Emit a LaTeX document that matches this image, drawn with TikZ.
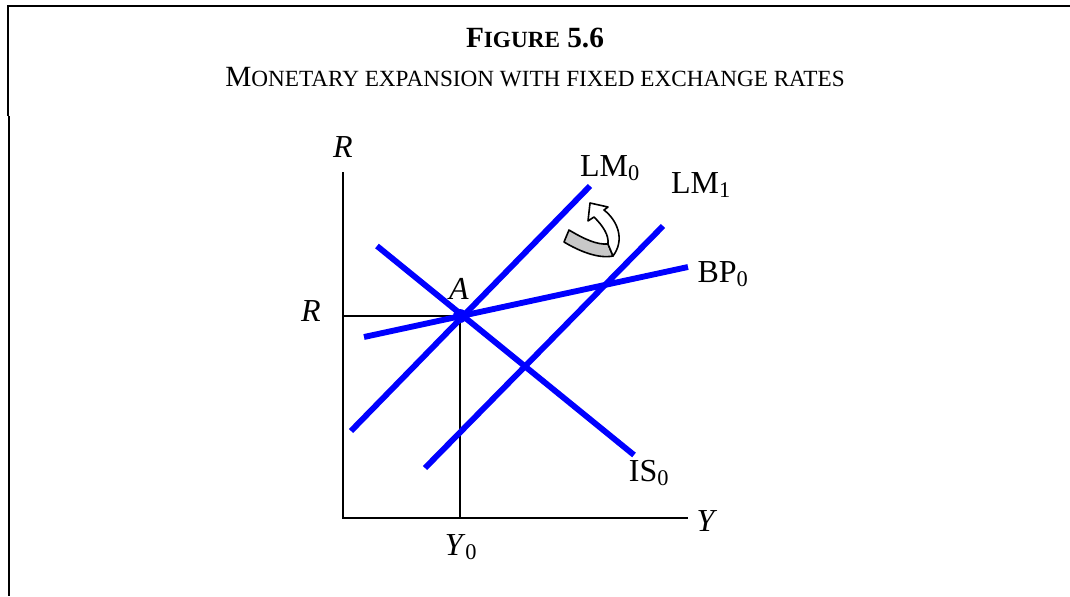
\documentclass[tikz,border=0pt]{standalone}
\usepackage{fontspec}
\setmainfont{Liberation Serif}
\definecolor{curveblue}{RGB}{0,0,255}
\definecolor{bandgray}{RGB}{200,200,200}
\newcommand{\ttlsize}{\fontsize{22pt}{24pt}\selectfont}
\newcommand{\ttlsc}{\fontsize{17.4pt}{20pt}\selectfont}
\begin{document}
\begin{tikzpicture}[x=0.75pt,y=-0.75pt,
  frame/.style={line width=1.8pt,black},
  axis/.style={line width=1.8pt,black},
  guide/.style={line width=1.1pt,black},
  curve/.style={line width=4.4pt,curveblue},
  lbl/.style={font=\fontsize{24pt}{26pt}\selectfont,anchor=base,inner sep=0pt},
  ttl/.style={anchor=base,inner sep=0pt},
  turn/.style={line width=1.2pt,black,line join=round}]
\useasboundingbox (0,0) rectangle (1070,596);
% frame
\coordinate (f0) at (8,6);
\coordinate (f1) at (1070,6);
\coordinate (f2) at (8,116);
\coordinate (f3) at (9,116);
\coordinate (f4) at (9,596);
\draw[frame] (f1) -- (f0) -- (f2);
\draw[frame] (f3) -- (f4);
% title
\node[ttl] (t1) at (535,47) {\bfseries\ttlsize F\ttlsc IGURE\ttlsize{} 5.6};
\node[ttl] (t2) at (535,86) {\ttlsize M\ttlsc ONETARY EXPANSION WITH FIXED EXCHANGE RATES};
% axes
\coordinate (O) at (343,518);
\coordinate (ytop) at (343,172);
\coordinate (xend) at (688,518);
\draw[axis] (ytop) -- (O) -- (xend);
% equilibrium point guides
\coordinate (A) at (460,316);
\coordinate (Ry) at (343,316);
\coordinate (Yx) at (460,518);
\draw[guide] (Ry) -- (A) -- (Yx);
% curves
\coordinate (lm0a) at (351,431); \coordinate (lm0b) at (590,186);
\coordinate (lm1a) at (425,468); \coordinate (lm1b) at (663,226);
\coordinate (bpa) at (364,337);  \coordinate (bpb) at (688,267);
\coordinate (isa) at (377,246);  \coordinate (isb) at (634,455);
\draw[curve] (lm0a) -- (lm0b);
\draw[curve] (lm1a) -- (lm1b);
\draw[curve] (bpa) -- (bpb);
\draw[curve] (isa) -- (isb);
\fill[curveblue] (A) circle[radius=7];
% labels
\node[lbl] (lR) at (343,157) {\textit{R}};
\node[lbl] (lR2) at (311,321) {\textit{R}};
\node[lbl] (lA) at (459,299) {\textit{A}};
\node[lbl] (lLM0) at (610,176) {LM\textsubscript{0}};
\node[lbl] (lLM1) at (701,193) {LM\textsubscript{1}};
\node[lbl] (lBP) at (723,282) {BP\textsubscript{0}};
\node[lbl] (lIS) at (649,481) {IS\textsubscript{0}};
\node[lbl] (lY0) at (461,555) {\textit{Y}\textsubscript{0}};
\node[lbl] (lY) at (707,531) {\textit{Y}};
% turning arrow
\filldraw[turn,fill=bandgray] (569,230) .. controls (584,239) and (597,245) .. (608,244)
  -- (613,256) .. controls (598,259) and (579,251) .. (564,242) -- cycle;
\filldraw[turn,fill=white] (613,256) .. controls (625,240) and (618,221) .. (604,210)
  -- (608,207) -- (590,203) -- (588,221) -- (594,217)
  .. controls (603,226) and (609,235) .. (608,244) -- cycle;
\end{tikzpicture}
\end{document}
